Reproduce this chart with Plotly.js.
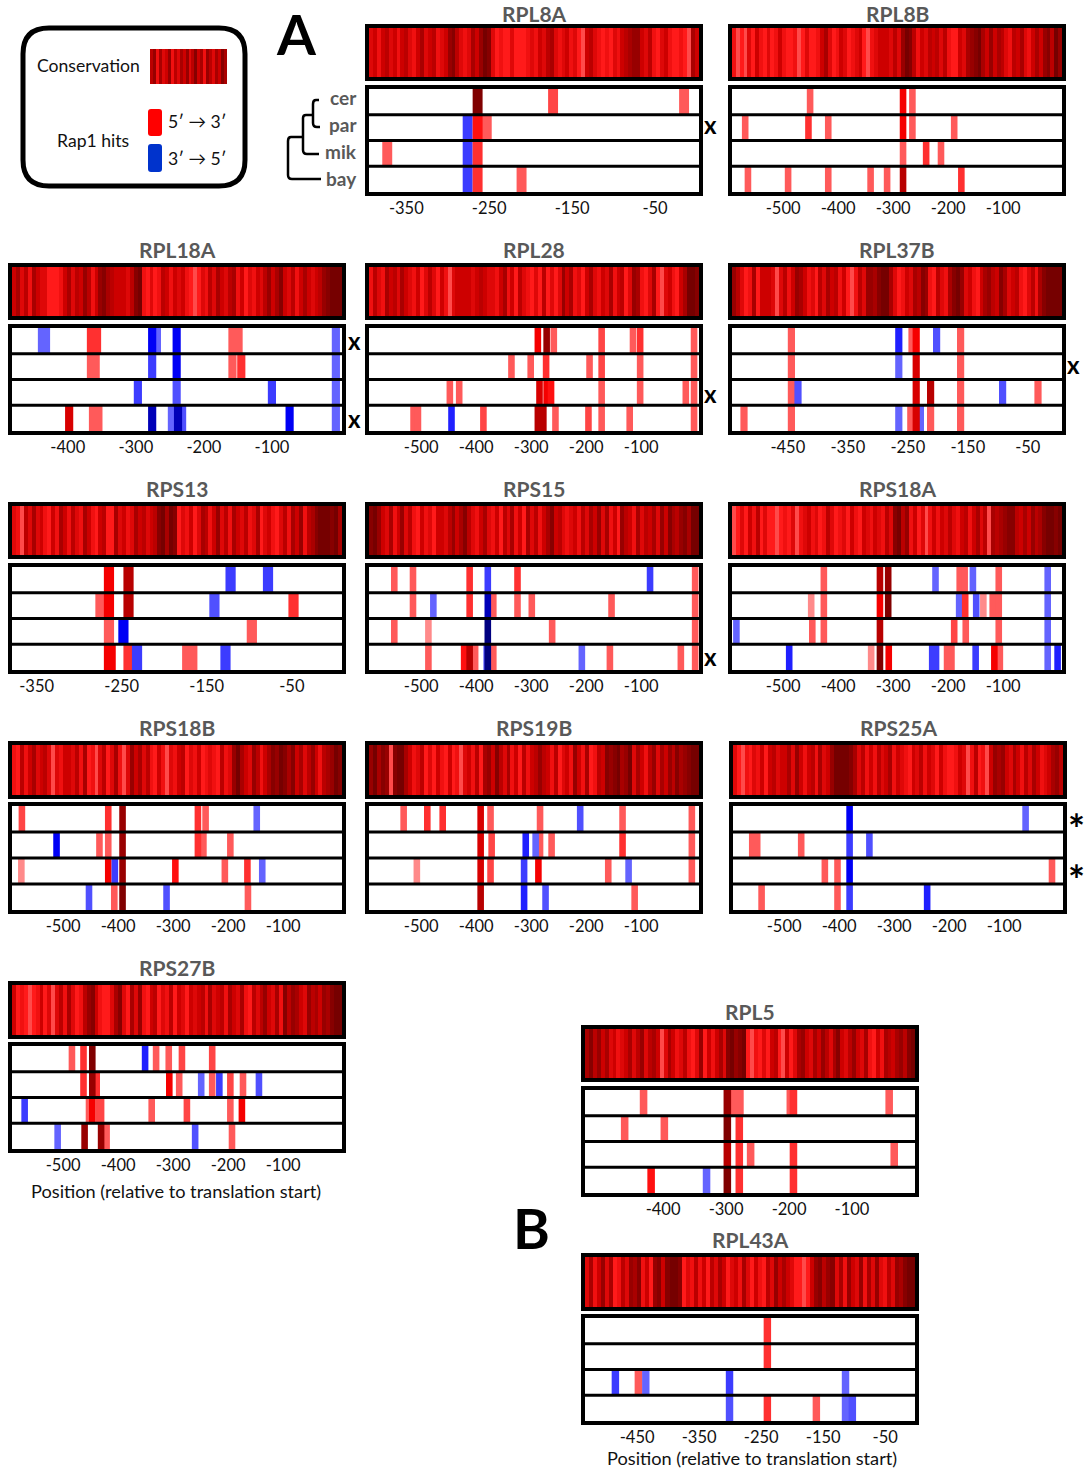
<!DOCTYPE html>
<html><head><meta charset="utf-8">
<script src="https://cdn.plot.ly/plotly-3.0.1.min.js"></script>
<style>html,body{margin:0;padding:0;background:#fff}#c{width:1088px;height:1470px}</style>
</head><body><div id="c"></div>
<script>
// ---------- conservation strips (0 = darkest, 9 = palest) ----------
const RPL8A_cons=[6,5,7,5,4,6,5,7,5,4,6,7,5,3,6,5,4,7,6,5,2,1,4,6,7,6,3,5,2,0,1,6,8,7,8,8,6,8,8,8,7,6,7,5,6,4,3,6,7,6,5,7,6,8,9,5,4,6,7,8,7,8,6,7,5,4,3,2,2,5,6,4,7,8,6,5,7,8,8,7,8,9,3,5];
const RPL8B_cons=[7,9,8,9,6,8,5,7,8,6,8,7,5,7,8,8,7,9,8,6,8,8,7,5,3,6,8,7,5,6,8,7,6,5,8,9,7,6,5,5,5,6,4,6,2,0,1,4,7,5,6,4,5,4,6,4,7,8,8,5,6,3,2,1,0,3,5,2,5,3,4,6,7,4,5,3,6,7,5,3,5,2,1,4,0,2];
const RPL18A_cons=[5,3,6,4,7,3,5,6,6,8,8,8,7,5,3,6,4,5,2,4,7,5,2,1,3,4,5,5,5,6,4,1,0,7,8,6,8,7,4,5,7,5,6,5,7,8,9,8,6,7,4,6,3,5,6,4,3,7,5,8,6,7,5,6,4,2,5,3,1,5,6,4,7,5,3,5,6,5,4,2,1,0,0,0];
const RPL28_cons=[7,4,6,7,3,5,4,6,3,5,6,7,5,8,6,4,6,8,5,7,9,6,5,5,5,5,6,5,4,5,6,6,7,5,3,7,5,8,4,6,7,8,6,8,4,8,6,8,6,2,5,3,7,6,8,5,3,6,7,5,6,3,7,5,4,8,6,2,3,7,8,6,3,8,9,6,5,7,8,5,3,0,0,1];
const RPL37B_cons=[2,4,6,8,7,3,8,5,5,5,6,9,6,4,7,5,2,3,5,7,6,8,4,6,3,5,4,7,5,8,9,7,4,6,2,2,3,1,0,0,3,6,8,7,5,6,3,4,1,2,7,8,4,6,7,3,1,0,2,6,5,7,8,5,3,2,4,5,1,3,6,5,4,7,8,6,4,7,3,1,0,0,0,0];
const RPS13_cons=[6,7,9,4,6,3,6,5,7,8,5,7,3,5,7,4,6,7,3,5,7,8,5,4,8,8,3,6,5,7,6,3,5,4,6,5,4,1,0,3,0,1,8,6,7,5,8,6,3,4,7,5,2,6,4,7,3,5,6,4,7,6,3,8,6,5,7,8,6,4,7,3,5,2,7,4,3,1,0,0,0,1,0,3];
const RPS15_cons=[1,0,2,5,6,3,7,5,2,6,4,7,8,5,7,6,8,5,5,6,4,2,5,3,1,4,6,7,5,3,6,7,5,8,4,6,3,7,5,8,3,6,4,7,5,3,1,5,4,6,7,6,5,7,4,6,3,5,2,6,3,7,5,8,2,4,5,7,3,6,4,5,3,6,2,5,1,3,4,2,1,3,0,0];
const RPS18A_cons=[9,8,6,8,5,7,4,8,6,8,8,9,8,7,8,6,9,7,6,5,7,6,8,7,4,6,8,7,6,8,5,7,8,5,6,7,5,6,7,4,6,1,0,4,2,7,5,8,6,9,7,5,7,5,6,4,6,7,5,4,7,5,3,6,4,9,3,4,3,2,1,1,4,5,3,5,2,4,3,1,0,0,1,0];
const RPS18B_cons=[7,8,4,7,5,3,6,5,4,6,9,6,7,5,5,6,4,7,3,8,7,9,6,4,8,6,3,7,9,6,2,5,3,6,4,7,8,5,7,9,6,7,5,4,8,6,7,5,8,7,6,7,8,4,7,6,2,0,3,5,6,2,4,7,5,3,1,2,0,1,3,1,5,3,6,4,2,5,7,4,3,2,0,1];
const RPS19B_cons=[2,0,3,1,2,9,1,0,0,3,5,7,6,4,8,6,8,5,7,8,5,8,7,9,6,5,7,4,8,3,2,5,1,4,6,3,7,5,8,4,7,5,4,2,4,5,7,4,8,6,5,7,2,5,7,3,8,7,4,5,1,2,1,0,3,2,0,6,3,5,7,4,2,6,3,5,2,4,1,3,2,1,0,0];
const RPS25A_cons=[6,8,9,7,8,6,7,5,8,5,4,6,5,5,3,6,2,5,7,5,4,7,3,6,5,2,0,0,0,0,1,3,6,4,7,5,7,4,6,5,3,7,5,6,7,8,5,6,4,7,5,6,8,5,7,8,8,7,5,6,9,7,4,8,7,9,5,2,3,2,5,6,3,5,7,4,6,3,5,7,6,5,3,2,4];
const RPS27B_cons=[5,8,7,8,9,8,7,5,8,6,9,6,4,7,3,6,8,7,4,2,1,5,7,8,8,6,3,1,6,8,3,6,2,7,8,5,4,8,6,7,4,8,5,6,8,5,6,5,4,7,3,6,5,4,7,3,5,6,3,7,8,4,6,4,2,5,6,3,7,1,4,2,3,5,6,2,4,3,5,2,3,1,0,0];
const RPL5_cons=[3,1,4,2,5,3,6,5,7,6,5,3,6,4,2,6,4,3,5,9,6,3,5,7,6,4,7,8,6,2,8,5,7,5,3,6,1,0,2,1,0,8,9,7,8,6,8,5,4,8,9,5,8,6,3,2,5,6,3,5,2,4,6,3,1,5,6,4,2,5,6,3,7,8,5,7,3,4,5,3,2,4,1,0];
const RPL43A_cons=[6,3,7,5,2,6,3,8,7,4,6,2,3,1,7,5,8,2,1,5,1,0,0,1,8,6,7,4,7,5,8,4,6,3,5,8,6,5,7,3,6,8,5,7,8,4,6,2,5,3,5,6,8,8,9,8,5,2,1,4,2,1,6,3,7,2,5,6,2,7,3,6,2,6,7,4,6,2,3,1,0,0];
const legend_cons=[4,2,7,3,6,5,2,7,4,6,3,5,2,6,4,1,5,3,7,2,4,6,3,5,1,3];

// ---------- Rap1 hits: [species row, position, strand (1 = 5'>3', -1 = 3'>5'), strength] ----------
const RPL8A_hits=[[0,-264,1,5],[0,-173,1,1.5],[0,-15,1,1],[1,-253,1,1],[1,-276,-1,2],[1,-264,1,2.5],[2,-373,1,1],[2,-276,-1,2],[2,-264,1,2],[3,-276,-1,2],[3,-264,1,2],[3,-211,1,1]];
const RPL8B_hits=[[0,-451,1,1],[0,-282,1,3],[0,-265,1,1],[1,-569,1,1],[1,-454,1,2],[1,-418,1,1],[1,-282,1,3],[1,-265,1,1],[1,-189,1,1],[2,-282,1,1],[2,-240,1,2],[2,-213,1,1],[3,-564,1,1],[3,-491,1,1],[3,-418,1,1],[3,-341,1,1],[3,-311,1,1],[3,-282,1,4],[3,-176,1,2]];
const RPL18A_hits=[[0,-438,-1,1],[0,-432,-1,1],[0,-366,1,2],[0,-357,1,2],[0,-269,-1,1],[0,-276,-1,3],[0,-240,-1,3],[0,-158,1,1],[0,-149,1,1],[0,-6,-1,1],[1,-366,1,1],[1,-359,1,1],[1,-276,-1,2],[1,-240,-1,3],[1,-158,1,1],[1,-145,1,2],[1,-6,-1,1],[2,-297,-1,2],[2,-240,-1,1.5],[2,-100,-1,2],[2,-6,-1,1],[3,-398,1,3.5],[3,-363,1,1],[3,-355,1,1],[3,-276,-1,4],[3,-247,-1,1],[3,-232,-1,1.5],[3,-238,-1,4],[3,-74,-1,3],[3,-6,-1,1]];
const RPL28_hits=[[0,-288,1,3],[0,-272,1,4.5],[0,-259,1,1],[0,-172,1,1.5],[0,-115,1,1],[0,-102,1,2],[0,-4,1,1],[1,-336,1,1],[1,-301,1,1],[1,-273,1,2],[1,-194,1,1],[1,-172,1,1.5],[1,-102,1,1],[1,-4,1,1],[2,-448,1,1],[2,-431,1,1],[2,-285,1,3.5],[2,-272,1,3],[2,-264,1,2.5],[2,-172,1,1],[2,-102,1,1],[2,-19,1,1],[2,-4,1,1],[3,-514,1,1],[3,-506,1,1],[3,-445,-1,2.5],[3,-387,1,1.5],[3,-288,1,4],[3,-278,1,4],[3,-256,1,1],[3,-196,1,1.5],[3,-172,1,1],[3,-121,1,1],[3,-4,1,1]];
const RPL37B_hits=[[0,-444,1,1],[0,-265,-1,2.5],[0,-243,1,1],[0,-236,1,3],[0,-202,-1,1.5],[0,-162,1,1],[1,-444,1,1],[1,-265,-1,1],[1,-236,1,3.5],[1,-162,1,1],[2,-444,1,1],[2,-433,-1,1.5],[2,-236,1,3.5],[2,-212,1,4],[2,-162,1,1],[2,-92,-1,1.5],[2,-33,1,1],[3,-523,1,1],[3,-444,1,1],[3,-265,-1,1],[3,-245,1,1],[3,-229,-1,1],[3,-236,1,3.5],[3,-212,1,1],[3,-162,1,1]];
const RPS13_hits=[[0,-265,1,3],[0,-242,1,4],[0,-122,-1,2],[0,-78,-1,2],[1,-275,1,1],[1,-265,1,3],[1,-242,1,4],[1,-141,-1,1.5],[1,-48,1,2],[2,-265,1,1],[2,-248,-1,3],[2,-97,1,1],[3,-265,1,3],[3,-263,1,3],[3,-242,1,2],[3,-232,-1,2],[3,-173,1,1],[3,-167,1,1],[3,-128,-1,2]];
const RPS15_hits=[[0,-549,1,1],[0,-515,1,1],[0,-412,1,2],[0,-379,-1,2],[0,-325,1,2],[0,-84,-1,2],[0,-2,1,1],[1,-515,1,1],[1,-478,-1,1],[1,-412,1,2],[1,-369,1,1],[1,-379,-1,4],[1,-325,1,1],[1,-299,1,1],[1,-154,1,1],[1,-2,1,1],[2,-549,1,1],[2,-487,1,.5],[2,-379,-1,5],[2,-262,1,1],[2,-2,1,1],[3,-487,1,1],[3,-422,1,2.5],[3,-402,1,1],[3,-412,1,4],[3,-369,1,1],[3,-381,-1,1.5],[3,-379,-1,5],[3,-208,-1,1],[3,-157,1,1],[3,-28,1,1],[3,-2,1,1]];
const RPS18A_hits=[[0,-426,1,1],[0,-324,1,4],[0,-309,1,4.5],[0,-223,-1,1],[0,-179,1,1],[0,-170,1,1],[0,-155,-1,1],[0,-108,1,1],[0,-19,-1,1],[1,-449,1,.5],[1,-426,1,1],[1,-324,1,3],[1,-309,1,5],[1,-180,-1,1],[1,-169,1,2],[1,-149,-1,1.5],[1,-136,1,.5],[1,-119,1,1],[1,-108,1,1],[1,-19,-1,1],[2,-585,-1,1],[2,-447,1,1],[2,-426,1,1],[2,-324,1,4],[2,-189,1,1.5],[2,-168,1,1],[2,-108,1,1],[2,-19,-1,1],[3,-489,-1,2.5],[3,-340,1,.5],[3,-324,1,5],[3,-308,1,3],[3,-229,-1,2],[3,-222,-1,2],[3,-202,1,1],[3,-194,1,1],[3,-150,-1,2],[3,-106,1,1],[3,-116,1,3],[3,-19,-1,1],[3,-1,-1,2.5]];
const RPS18B_hits=[[0,-575,1,1.5],[0,-418,1,2],[0,-392,1,4.5],[0,-255,1,2],[0,-241,1,1],[0,-148,-1,1],[1,-512,-1,3],[1,-434,1,1],[1,-418,1,1],[1,-392,1,4.5],[1,-245,1,1],[1,-255,1,2],[1,-196,1,1],[2,-576,1,.5],[2,-418,1,3],[2,-406,-1,2],[2,-392,1,4.5],[2,-296,1,2.5],[2,-206,1,1],[2,-165,1,2],[2,-138,-1,1],[3,-453,-1,1.5],[3,-407,1,1],[3,-392,1,5],[3,-312,-1,1.5],[3,-164,1,1]];
const RPS19B_hits=[[0,-532,1,1],[0,-489,1,2],[0,-461,1,2],[0,-392,1,3.5],[0,-374,1,1],[0,-284,1,1],[0,-211,-1,1.5],[0,-134,1,1],[0,-8,1,1],[1,-392,1,3.5],[1,-372,1,1.5],[1,-310,-1,2.5],[1,-284,1,1],[1,-292,-1,1],[1,-263,1,1],[1,-134,1,2],[1,-8,1,1],[2,-508,1,.5],[2,-392,1,3.5],[2,-374,1,1.5],[2,-313,-1,2],[2,-287,1,3],[2,-160,1,1],[2,-123,-1,1],[2,-8,1,1],[3,-392,1,4],[3,-313,-1,2.5],[3,-274,-1,1.5],[3,-112,1,1]];
const RPS25A_hits=[[0,-381,-1,3],[0,-61,-1,1],[1,-558,1,1],[1,-549,1,1],[1,-469,1,1],[1,-381,-1,2],[1,-345,-1,1.5],[2,-426,1,1],[2,-403,1,1],[2,-381,-1,3],[2,-13,1,1],[3,-541,1,1],[3,-403,1,1],[3,-381,-1,2],[3,-240,-1,2.5]];
const RPS27B_hits=[[0,-484,1,1],[0,-463,1,2],[0,-447,1,5],[0,-351,-1,2.5],[0,-331,1,1],[0,-308,1,1],[0,-284,1,1.5],[0,-229,1,1.5],[1,-463,1,2],[1,-439,1,2],[1,-447,1,4.5],[1,-307,1,3],[1,-289,1,1],[1,-249,-1,1],[1,-229,1,1],[1,-216,-1,2],[1,-196,1,1.5],[1,-173,1,1],[1,-144,-1,1.5],[2,-570,-1,2],[2,-453,1,1],[2,-435,1,1.5],[2,-431,1,1.5],[2,-447,1,3],[2,-339,1,1],[2,-275,1,1.5],[2,-196,1,1],[2,-175,1,3],[3,-510,-1,1],[3,-461,1,4.5],[3,-421,1,1],[3,-431,1,4.5],[3,-260,-1,1.5],[3,-193,1,1]];
const RPL5_hits=[[0,-431,1,1],[0,-287,1,1],[0,-278,1,1],[0,-298,1,4.5],[0,-198,1,1],[0,-193,1,2],[0,-41,1,1],[1,-461,1,1],[1,-398,1,1],[1,-298,1,5],[1,-279,1,2],[2,-298,1,4],[2,-279,1,2],[2,-261,1,1],[2,-193,1,2],[2,-33,1,1],[3,-419,1,2.5],[3,-331,-1,1],[3,-298,1,5],[3,-279,1,2],[3,-193,1,2]];
const RPL43A_hits=[[0,-240,1,2],[1,-240,1,2],[2,-485,-1,2],[2,-436,-1,1],[2,-448,1,1],[2,-301,-1,2],[2,-114,-1,1],[3,-301,-1,1.5],[3,-240,1,2],[3,-161,1,1],[3,-114,-1,1],[3,-103,-1,1.5]];

// ---------- tick labels ----------
const ticks_hundreds_5=[-500,-400,-300,-200,-100];
const ticks_hundreds_4=[-400,-300,-200,-100];
const ticks_fifties_4=[-350,-250,-150,-50];
const ticks_fifties_5=[-450,-350,-250,-150,-50];
const species=['cer','par','mik','bay'];

// ---------- page layout (pixels) ----------
const colL=12, colM=369, colR=732;
const rows=[[28,77,89,192],[267,316,328,431],[506,555,567,670],[745,795,806,910],[985,1035,1046,1149]];
const panels=[
 ['RPL8A',RPL8A_cons,RPL8A_hits,[-395,3],ticks_fifties_4,colM,rows[0]],
 ['RPL8B',RPL8B_cons,RPL8B_hits,[-593,7],ticks_hundreds_5,colR,rows[0]],
 ['RPL18A',RPL18A_cons,RPL18A_hits,[-482,3],ticks_hundreds_4,colL,rows[1]],
 ['RPL28',RPL28_cons,RPL28_hits,[-595,5],ticks_hundreds_5,colM,rows[1]],
 ['RPL37B',RPL37B_cons,RPL37B_hits,[-543,7],ticks_fifties_5,colR,rows[1]],
 ['RPS13',RPS13_cons,RPS13_hits,[-379,9],ticks_fifties_4,colL,rows[2]],
 ['RPS15',RPS15_cons,RPS15_hits,[-595,5],ticks_hundreds_5,colM,rows[2]],
 ['RPS18A',RPS18A_cons,RPS18A_hits,[-593,7],ticks_hundreds_5,colR,rows[2]],
 ['RPS18B',RPS18B_cons,RPS18B_hits,[-593,7],ticks_hundreds_5,colL,rows[3]],
 ['RPS19B',RPS19B_cons,RPS19B_hits,[-595,5],ticks_hundreds_5,colM,rows[3]],
 ['RPS25A',RPS25A_cons,RPS25A_hits,[-593,7],ticks_hundreds_5,colR+1,rows[3]],
 ['RPS27B',RPS27B_cons,RPS27B_hits,[-593,7],ticks_hundreds_5,colL,rows[4]],
 ['RPL5',RPL5_cons,RPL5_hits,[-524,0],ticks_hundreds_4,585,[1029,1078,1090,1193]],
 ['RPL43A',RPL43A_cons,RPL43A_hits,[-534,-2],ticks_fifties_5,585,[1257,1307,1318,1421]]
];
const W=1088,H=1470,PW=330;
const X=p=>p/W, Y=p=>1-p/H;
const FONT='Lato, "Noto Sans", sans-serif';
const consScale=[[0,'#760000'],[.33,'#a80000'],[.55,'#cc0000'],[.78,'#f01010'],[.89,'#ff1a1a'],[1,'#ff4a4a']];
const redShades={.5:'#ff8a8a',1:'#ff5a5a',1.5:'#ff4545',2:'#ff3030',2.5:'#ff1010',3:'#f50000',3.5:'#d80000',4:'#b80000',4.5:'#980000',5:'#800000'};
const blueShades={.5:'#9a9aff',1:'#6464ff',1.5:'#5050ff',2:'#3c3cff',2.5:'#2020ff',3:'#0000f5',3.5:'#0000e0',4:'#0000b8',4.5:'#000098',5:'#000080'};

const traces=[], shapes=[], annotations=[];
const layout={width:W,height:H,margin:{l:0,r:0,t:0,b:0},paper_bgcolor:'#fff',plot_bgcolor:'#fff',showlegend:false,
  barmode:'overlay',font:{family:FONT,color:'#1a1a1a'},shapes,annotations,dragmode:false,hovermode:false};
function boxAxes(n,left,top,bottom,range,yRange,extraX,extraY){
  layout['xaxis'+n]=Object.assign({domain:[X(left),X(left+PW)],anchor:'y'+n,range,showline:true,mirror:true,linewidth:4,linecolor:'#000',
    zeroline:false,showgrid:false,showticklabels:false,ticks:'',fixedrange:true},extraX||{});
  layout['yaxis'+n]=Object.assign({domain:[Y(bottom),Y(top)],anchor:'x'+n,range:yRange,showline:true,mirror:true,linewidth:4,linecolor:'#000',
    zeroline:false,showgrid:false,showticklabels:false,ticks:'',fixedrange:true},extraY||{});
}
function label(text,x,y,size,opts){
  annotations.push(Object.assign({text,xref:'paper',yref:'paper',x:X(x),y:Y(y),xanchor:'center',yanchor:'middle',showarrow:false,
    font:{family:FONT,size,color:'#111'}},opts||{}));
}
panels.forEach((p,i)=>{
  const [name,cons,hits,range,ticks,left,r]=p;
  const a=2*i+1,b=2*i+2;
  boxAxes(a,left,r[0],r[1],range,[0,1]);
  boxAxes(b,left,r[2],r[3],range,[4,0],{showticklabels:true,tickmode:'array',tickvals:ticks,ticktext:ticks.map(String),
    tickfont:{family:FONT,size:16.5,color:'#111'},ticks:'',ticklen:0,ticklabelstandoff:-2});
  traces.push({type:'heatmap',xaxis:'x'+a,yaxis:'y'+a,z:[cons],x0:range[0]+(range[1]-range[0])/cons.length/2,dx:(range[1]-range[0])/cons.length,
    y0:.5,dy:1,zmin:0,zmax:9,colorscale:consScale,showscale:false,hoverinfo:'skip',name:name});
  traces.push({type:'bar',xaxis:'x'+b,yaxis:'y'+b,x:hits.map(h=>h[1]),y:hits.map(()=>1),base:hits.map(h=>h[0]),width:12,
    marker:{color:hits.map(h=>(h[2]>0?redShades:blueShades)[h[3]]),line:{width:0}},hoverinfo:'skip',name:name});
  [1,2,3].forEach(k=>shapes.push({type:'line',layer:'above',xref:'x'+b+' domain',yref:'y'+b,x0:0,x1:1,y0:k,y1:k,line:{color:'#000',width:3}}));
  label(name,left+165,Math.max(r[0]-18,13),21,{font:{family:FONT,size:21,color:'#595959',weight:700}});
});

// legend strip
const nL=2*panels.length+1;
layout['xaxis'+nL]={domain:[X(150),X(227)],anchor:'y'+nL,range:[0,1],visible:false,fixedrange:true};
layout['yaxis'+nL]={domain:[Y(84),Y(49)],anchor:'x'+nL,range:[0,1],visible:false,fixedrange:true};
traces.push({type:'heatmap',xaxis:'x'+nL,yaxis:'y'+nL,z:[legend_cons],x0:.5/legend_cons.length,dx:1/legend_cons.length,y0:.5,dy:1,zmin:0,zmax:9,
  colorscale:consScale,showscale:false,hoverinfo:'skip'});

// legend frame and swatches
function rr(x0,y0,x1,y1,r){const a=X,b=Y;return `M${a(x0+r)},${b(y0)} L${a(x1-r)},${b(y0)} Q${a(x1)},${b(y0)} ${a(x1)},${b(y0+r)} L${a(x1)},${b(y1-r)} Q${a(x1)},${b(y1)} ${a(x1-r)},${b(y1)} L${a(x0+r)},${b(y1)} Q${a(x0)},${b(y1)} ${a(x0)},${b(y1-r)} L${a(x0)},${b(y0+r)} Q${a(x0)},${b(y0)} ${a(x0+r)},${b(y0)} Z`;}
shapes.push({type:'path',xref:'paper',yref:'paper',path:rr(23,28,245,186,26),line:{color:'#000',width:5},fillcolor:'rgba(0,0,0,0)'});
shapes.push({type:'path',xref:'paper',yref:'paper',path:rr(148,109,162,136,3),line:{width:0},fillcolor:'#ff0000'});
shapes.push({type:'path',xref:'paper',yref:'paper',path:rr(148,144,162,172,3),line:{width:0},fillcolor:'#0033cc'});
label('Conservation',88,66,17.6);
label('Rap1 hits',93,140,17.6);
label('5′ → 3′',197,122,17.6);
label('3′ → 5′',197,158,17.6);

// species tree
function tree(d){shapes.push({type:'path',xref:'paper',yref:'paper',path:d,line:{color:'#000',width:2.5},fillcolor:'rgba(0,0,0,0)'});}
const P=(x,y)=>X(x)+','+Y(y);
tree(`M${P(319,100)} L${P(316,100)} Q${P(313,100)} ${P(313,104)} L${P(313,123)} Q${P(313,127)} ${P(317,127)} L${P(320,127)}`);
tree(`M${P(313,115)} L${P(306,115)} Q${P(303,115)} ${P(303,118)} L${P(303,150)} Q${P(303,154)} ${P(307,154)} L${P(319,154)}`);
tree(`M${P(303,137)} L${P(291,137)} Q${P(288,137)} ${P(288,141)} L${P(288,175)} Q${P(288,179)} ${P(292,179)} L${P(321,179)}`);
species.forEach((s,i)=>label(s,359,98+27*i,19,{xanchor:'right',font:{family:FONT,size:19,color:'#595959',weight:700}}));

// panel marks
label('A',296,33,56,{font:{family:FONT,size:56,color:'#000',weight:700}});
label('B',531,1227,56,{font:{family:FONT,size:56,color:'#000',weight:700}});
[[710,125],[354,341],[354,419],[710,393],[1073,365],[710,656]].forEach(m=>label('x',m[0],m[1],24,{font:{family:FONT,size:24,color:'#000',weight:700}}));
[[1076,829],[1076,880]].forEach(m=>label('*',m[0],m[1],40,{font:{family:FONT,size:40,color:'#000',weight:700}}));
label('Position (relative to translation start)',176,1191,18.2);
label('Position (relative to translation start)',752,1458,18.2);

Plotly.newPlot('c',traces,layout,{displayModeBar:false,staticPlot:true});
</script></body></html>
